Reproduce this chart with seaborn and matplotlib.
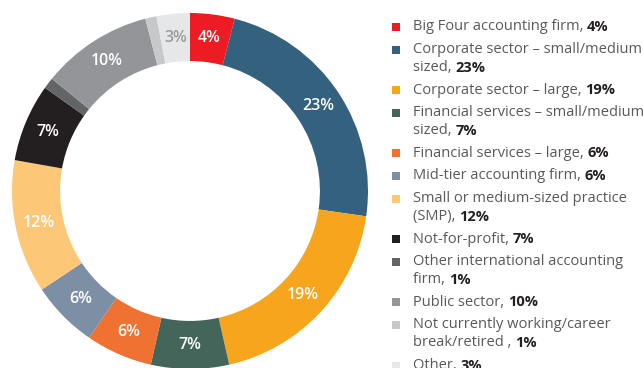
import matplotlib
matplotlib.use("Agg")
import matplotlib.pyplot as plt
import seaborn as sns
import numpy as np
from matplotlib.patches import Rectangle

sns.set_theme(style="white")
plt.rcParams["font.family"] = ["Open Sans", "DejaVu Sans"]

# Employer categories, share of respondents (%)
legend_lines = [
    ["Big Four accounting firm, "],
    ["Corporate sector \u2013 small/medium", "sized, "],
    ["Corporate sector \u2013 large, "],
    ["Financial services \u2013 small/medium", "sized, "],
    ["Financial services \u2013 large, "],
    ["Mid-tier accounting firm, "],
    ["Small or medium-sized practice", "(SMP), "],
    ["Not-for-profit, "],
    ["Other international accounting", "firm, "],
    ["Public sector, "],
    ["Not currently working/career", "break/retired , "],
    ["Other, "],
]
shares = [4, 23, 19, 7, 6, 6, 12, 7, 1, 10, 1, 3]
colors = ["#ED1C24", "#33617E", "#F6A51D", "#44665A", "#F07232", "#7D8FA5",
          "#FCC878", "#231F20", "#636466", "#939598", "#C7C8CA", "#E6E7E8"]
label_colors = ["white"] * 11 + ["#9A9B9D"]
palette = sns.color_palette(colors)

W, H = 643, 368
fig = plt.figure(figsize=(W / 100, H / 100), dpi=100)
fig.patch.set_facecolor("white")

# Donut chart
cx, cy, R = 190, 191, 178
ax = fig.add_axes([(cx - R) / W, (H - cy - R) / H, 2 * R / W, 2 * R / H])
ring = 0.27
ax.pie(shares, colors=palette, startangle=90, counterclock=False,
       radius=1, wedgeprops=dict(width=ring, linewidth=0))
ax.set_xlim(-1, 1)
ax.set_ylim(-1, 1)
ax.set_aspect("equal")
ax.axis("off")

total = sum(shares)
acc = 0
for v, lc in zip(shares, label_colors):
    mid = (acc + v / 2) / total
    acc += v
    if v < 2:
        continue
    ang = np.deg2rad(90 - 360 * mid)
    r = 1 - ring / 2
    ax.text(r * np.cos(ang), r * np.sin(ang), f"{v}%", ha="center", va="center",
            color=lc, fontsize=11.5, fontweight="semibold")

# Legend drawn as text rows with square markers
renderer = fig.canvas.get_renderer()
x_sq, x_txt = 396, 413
y = 27
sq = 8
fs = 10.5
for lines, v, c in zip(legend_lines, shares, colors):
    fig.patches.append(Rectangle(((x_sq - sq / 2) / W, (H - y - sq / 2) / H), sq / W, sq / H,
                                 transform=fig.transFigure, facecolor=c, edgecolor="none"))
    for i, line in enumerate(lines):
        t = fig.text(x_txt / W, (H - y) / H, line, ha="left", va="center",
                     fontsize=fs, color="#58595B")
        if i == len(lines) - 1:
            bb = t.get_window_extent(renderer)
            fig.text(bb.x1 / W, (H - y) / H, f"{v}%", ha="left", va="center",
                     fontsize=fs, color="#231F20", fontweight="bold")
        else:
            y += 18
    y += 22.6

fig.savefig("out.png", dpi=100)
